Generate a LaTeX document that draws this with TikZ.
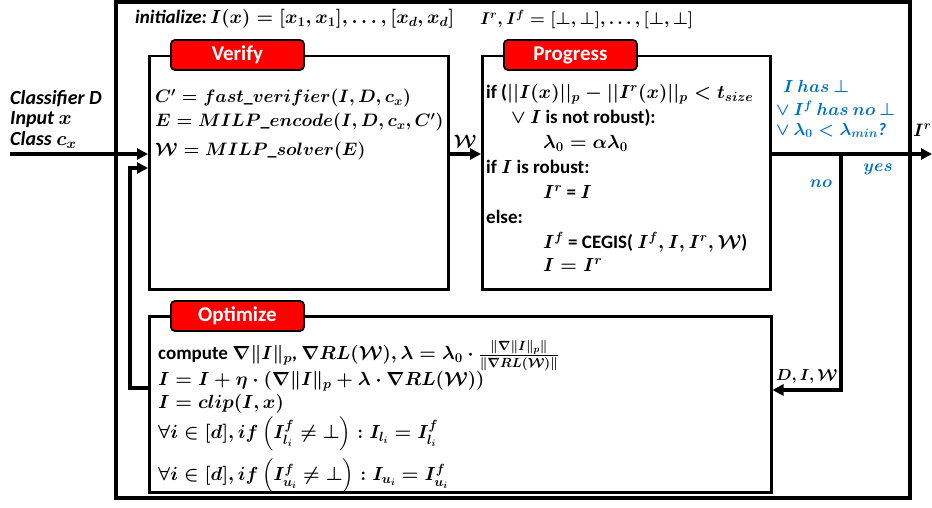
\RequirePackage{fix-cm}
\documentclass[tikz,border=0pt]{standalone}
\usepackage{amsmath,amssymb}
\usepackage{fontspec}
\setmainfont{Carlito}
\usetikzlibrary{positioning,arrows.meta}
\definecolor{tabred}{RGB}{255,0,0}
\definecolor{condblue}{RGB}{0,112,192}

\begin{document}
\begin{tikzpicture}[x=1pt,y=-1pt]
	
	\tikzset{block/.style={draw, line width=2.5pt, anchor=north west, inner sep=0pt},
		tab/.style={draw, line width=1.8pt, fill=tabred, rounded corners=4pt,
			text=white, font=\fontsize{21}{24}\selectfont\bfseries,
			minimum width=133pt, minimum height=30pt, inner sep=0pt},
		body/.style={anchor=north west, align=left, inner sep=0pt,
			font=\fontsize{19}{25}\selectfont\bfseries\boldmath},
		cond/.style={body, text=condblue, font=\fontsize{17.5}{23}\selectfont\bfseries\itshape\boldmath},
		flow/.style={line width=3.5pt, -{Triangle[length=11pt,width=11pt]}},
	}
	
	\useasboundingbox (0,0) rectangle (932,508);
	\draw[line width=3.5pt] (116,2) rectangle (910,498);
	
	\node[body, font=\fontsize{19}{22}\selectfont\bfseries\boldmath] (init) at (135,9)
		{\textit{initialize:}\,$I(x) = [x_1, x_1], \ldots, [x_d, x_d]$};
	\node[body, font=\fontsize{17}{22}\selectfont\bfseries\boldmath] (initr) at (480,10)
		{$I^r, I^f = [\bot,\bot], \ldots, [\bot,\bot]$};
	
	% boxes and their tabs
	\node[block, minimum width=299pt, minimum height=233pt] (verify) at (148,55) {};
	\node[block, minimum width=288pt, minimum height=233pt] (progress) at (481,55) {};
	\node[block, minimum width=622pt, minimum height=176pt] (optimize) at (148,315) {};
	\node[tab, right=22pt of verify.north west] (verifytab) {Verify};
	\node[tab, right=22pt of progress.north west] (progresstab) {Progress};
	\node[tab, right=22pt of optimize.north west, yshift=-1pt] (optimizetab) {Optimize};
	
	\node[body, font=\fontsize{18}{24}\selectfont\bfseries\boldmath,
		below right=34pt and 7pt of verify.north west] (verifytext)
		{$C' = fast\_verifier(I, D, c_x)$\\
		$E = MILP\_encode(I, D, c_x, C')$\\[5pt]
		$\mathcal{W} = MILP\_solver(E)$};
	
	\node[body, below right=29pt and 5pt of progress.north west] (progresstext)
		{if ($||I(x)||_p - ||I^r(x)||_p < t_{size}$\\
		\hspace*{25pt}$\vee$ $I$ is not robust):\\
		\hspace*{57pt}$\lambda_0 = \alpha\lambda_0$\\
		if $I$ is robust:\\
		\hspace*{57pt}$I^r$ = $I$\\
		else:\\
		\hspace*{57pt}$I^f$ = CEGIS( $I^f, I, I^r, \mathcal{W}$)\\[-2pt]
		\hspace*{57pt}$I = I^r$};
	
	\node[body, below right=25pt and 10pt of optimize.north west] (optimizetext)
		{compute $\nabla\|I\|_p$,\ $\nabla RL(\mathcal{W}), \lambda = \lambda_0\cdot\frac{\|\nabla\|I\|_p\|}{\|\nabla RL(\mathcal{W})\|}$\\[1pt]
		$I = I + \eta\cdot(\nabla\|I\|_p + \lambda\cdot\nabla RL(\mathcal{W}))$\\[-2pt]
		$I = clip(I, x)$\\[2pt]
		$\forall i\in[d], if\left(I^f_{l_i}\neq\bot\right): I_{l_i} = I^f_{l_i}$\\[7pt]
		$\forall i\in[d], if\left(I^f_{u_i}\vphantom{I^f_{l_i}}\neq\bot\right): I_{u_i} = I^f_{u_i}$};
	
	\node[cond] (check) at (776,80)
		{\hspace*{7pt}$I\ has\ \bot$\\
		$\vee$ $I^f\ has\ no\ \bot$\\[-3pt]
		$\vee$\ $\lambda_0 < \lambda_{min}$?};
	
	\node[body, font=\fontsize{20}{20.5}\selectfont\bfseries\itshape\boldmath] (inputs) at (10,90)
		{Classifier D\\ Input $x$\\ Class $c_x$};
	
	% connectors
	\coordinate (in) at (10,154);
	\coordinate (split) at (841,154);
	\coordinate (out) at (932,154);
	\coordinate (turn) at (841,390);
	\coordinate (back) at (130,388);
	
	\draw[flow] (in) -- (verify.west |- in);
	\draw[flow] (verify.east |- in) -- node[above=1pt, font=\fontsize{18}{20}\selectfont\boldmath] (wlabel) {$\mathcal{W}$} (progress.west |- in);
	\draw[flow] (progress.east |- in) -- (out);
	\draw[flow] (split) -- (turn) -- node[above=1pt, font=\fontsize{16}{20}\selectfont\boldmath] (dlabel) {$D, I, \mathcal{W}$} (optimize.east |- turn);
	\draw[flow] (optimize.west |- back) -- (back) -- (back |- 0,168) -- (verify.west |- 0,168);
	
	\node[anchor=west, inner sep=0pt, font=\fontsize{18}{20}\selectfont\boldmath] (outlabel) at (913,130) {$I^r$};
	\node[inner sep=0pt, text=condblue, font=\fontsize{17}{20}\selectfont\bfseries\boldmath] (yes) at (878,169) {$yes$};
	\node[inner sep=0pt, text=condblue, font=\fontsize{17}{20}\selectfont\bfseries\boldmath] (no) at (821,184) {$no$};
	
\end{tikzpicture}
\end{document}
